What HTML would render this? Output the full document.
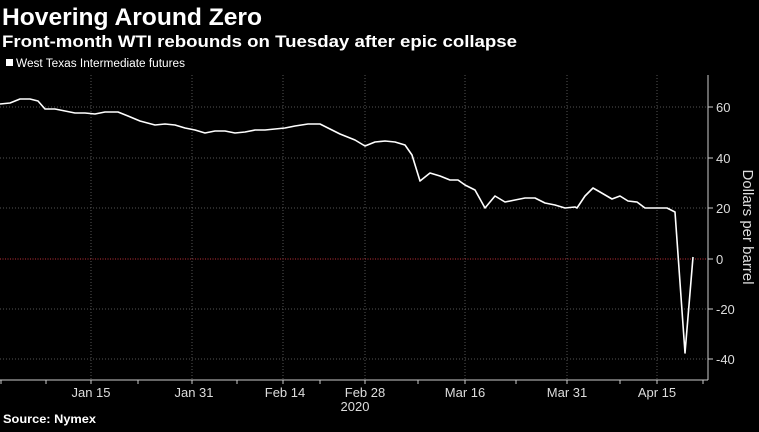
<!DOCTYPE html>
<html><head><meta charset="utf-8"><style>
body{margin:0;background:#000;width:759px;height:427px;overflow:hidden;font-family:"Liberation Sans",sans-serif}
</style></head><body>
<svg width="759" height="427" viewBox="0 0 759 427" xmlns="http://www.w3.org/2000/svg" font-family="Liberation Sans, sans-serif">
<rect width="759" height="427" fill="#000"/>
<text x="2" y="25" fill="#fff" font-size="24" font-weight="bold" textLength="260" lengthAdjust="spacingAndGlyphs">Hovering Around Zero</text>
<text x="2" y="47" fill="#fff" font-size="17" font-weight="bold" textLength="515" lengthAdjust="spacingAndGlyphs">Front-month WTI rebounds on Tuesday after epic collapse</text>
<rect x="6" y="59" width="7" height="7" fill="#fff"/>
<text x="16" y="67" fill="#fff" font-size="11.5" textLength="169" lengthAdjust="spacingAndGlyphs">West Texas Intermediate futures</text>
<g stroke="#555" stroke-width="1" stroke-dasharray="1,2">
<line x1="0" y1="107" x2="708" y2="107"/><line x1="0" y1="158" x2="708" y2="158"/>
<line x1="0" y1="208" x2="708" y2="208"/><line x1="0" y1="309" x2="708" y2="309"/>
<line x1="0" y1="359" x2="708" y2="359"/>
<line x1="91" y1="75" x2="91" y2="380"/><line x1="192" y1="75" x2="192" y2="380"/>
<line x1="283" y1="75" x2="283" y2="380"/><line x1="365" y1="75" x2="365" y2="380"/>
<line x1="465" y1="75" x2="465" y2="380"/><line x1="567" y1="75" x2="567" y2="380"/>
<line x1="657" y1="75" x2="657" y2="380"/>
</g>
<line x1="0" y1="259" x2="708" y2="259" stroke="#c0303a" stroke-width="1" stroke-dasharray="1,1.5"/>
<g stroke="#ccc" stroke-width="1">
<line x1="708" y1="75" x2="708" y2="380"/><line x1="0" y1="380" x2="708" y2="380"/>
<line x1="708" y1="107" x2="713" y2="107"/><line x1="708" y1="158" x2="713" y2="158"/>
<line x1="708" y1="208" x2="713" y2="208"/><line x1="708" y1="259" x2="713" y2="259"/>
<line x1="708" y1="309" x2="713" y2="309"/><line x1="708" y1="359" x2="713" y2="359"/>
<line x1="1" y1="380" x2="1" y2="384"/><line x1="46" y1="380" x2="46" y2="384"/>
<line x1="91" y1="380" x2="91" y2="384"/><line x1="138" y1="380" x2="138" y2="384"/>
<line x1="192" y1="380" x2="192" y2="384"/><line x1="237" y1="380" x2="237" y2="384"/>
<line x1="283" y1="380" x2="283" y2="384"/><line x1="320" y1="380" x2="320" y2="384"/>
<line x1="365" y1="380" x2="365" y2="384"/><line x1="418" y1="380" x2="418" y2="384"/>
<line x1="465" y1="380" x2="465" y2="384"/><line x1="516" y1="380" x2="516" y2="384"/>
<line x1="567" y1="380" x2="567" y2="384"/><line x1="620" y1="380" x2="620" y2="384"/>
<line x1="657" y1="380" x2="657" y2="384"/><line x1="703" y1="380" x2="703" y2="384"/>
</g>
<g fill="#ddd" font-size="13">
<text x="716" y="112">60</text><text x="716" y="163">40</text><text x="716" y="213">20</text>
<text x="716" y="264">0</text><text x="716" y="314">-20</text><text x="716" y="364">-40</text>
</g>
<text transform="translate(743,227) rotate(90)" fill="#ddd" font-size="15" text-anchor="middle">Dollars per barrel</text>
<g fill="#ddd" font-size="13" text-anchor="middle">
<text x="91" y="397">Jan 15</text><text x="194" y="397">Jan 31</text><text x="285" y="397">Feb 14</text>
<text x="365" y="397">Feb 28</text><text x="355" y="411">2020</text><text x="465" y="397">Mar 16</text>
<text x="567" y="397">Mar 31</text><text x="657" y="397">Apr 15</text>
</g>
<text x="3" y="423" fill="#fff" font-size="12" font-weight="bold" textLength="93" lengthAdjust="spacingAndGlyphs">Source: Nymex</text>
<polyline fill="none" stroke="#fff" stroke-width="1.6" stroke-linejoin="round" points="0,104 10,103 20,99 30,99 38,101 45,109 55,109 65,111 75,113 85,113 95,114 105,112 118,112 128,116 140,121 155,125 165,124 175,125 185,128 195,130 205,133 215,131 225,131 235,133 245,132 255,130 265,130 275,129 285,128 295,126 308,124 320,124 330,129 340,134 355,140 365,146 375,142 385,141 395,142 405,145 412,155 420,181 430,173 440,176 450,180 458,180 465,185 475,190 485,208 495,196 505,202 515,200 525,198 535,198 545,203 555,205 565,208 575,207 577,208 585,196 593,188 600,192 612,199 620,196 628,201 637,202 645,208 655,208 667,208 675,212 685,353 693,257"/>
</svg>
</body></html>
